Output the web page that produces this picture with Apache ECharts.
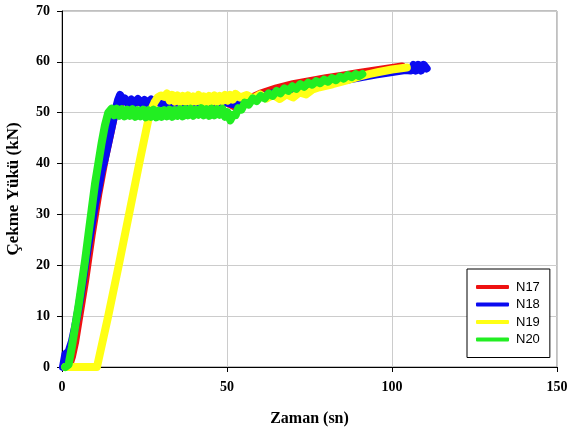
<!DOCTYPE html>
<html>
<head>
<meta charset="utf-8">
<script src="https://cdn.jsdelivr.net/npm/echarts@6/dist/echarts.min.js"></script>
<style>html,body{margin:0;padding:0;background:#fff;}#c{width:568px;height:434px;}</style>
</head>
<body>
<div id="c"></div>
<script>
var seriesNames = ['N17', 'N18', 'N19', 'N20'];
var xTicks = [0, 50, 100, 150];
var yTicks = [0, 10, 20, 30, 40, 50, 60, 70];

var n17 = [[2,0],[3,2],[4,5],[5,9],[6,13],[7,17],[8,21.5],[9,26],[10,30],[11,34],[12,37.5],[13,41],[14,44],[15,47],[16,50],[17,51.5],[18,52],[19,52.6],[20,52],[25,52.2],[30,52],[40,52],[50,52],[53,51],[55,52],[57,52.8],[60,53.7],[65,54.8],[70,55.6],[75,56.2],[80,56.8],[85,57.3],[90,57.8],[95,58.3],[100,58.8],[103,59.1]];

var n18 = [[0.3,0],[1,2.5],[2,3],[3,5],[4,8],[5,11.5],[6,15.5],[7,20],[8,24],[9,28],[10,32],[11,35],[12,38.5],[13,41],[14,44],[15,47],[16,50],[17,52.5],[17.6,53.5],[18.3,52.2],[19,52.8],[20,51.8],[21,52.6],[22,51.9],[23,52.7],[24,51.9],[25,52.5],[26,51.8],[27,52.6],[28,52],[29,52.2],[30,51.8],[35,52],[40,52],[45,52.2],[50,52],[53,51.5],[55,52],[60,53.1],[65,54],[70,54.7],[75,55.3],[80,55.8],[85,56.3],[90,56.9],[95,57.5],[100,58],[104,58.4],[105.8,58.3],[106.5,59.4],[107.2,58.3],[108,59.4],[108.8,58.3],[109.6,59.4],[110.5,58.7]];

var n19 = [[1,0],[10.6,0],[14,10],[17.2,20],[20.3,30],[23.4,40],[26.6,50],[28,52],[29,53],[30,53.4],[31,53.1],[31.8,53.8],[32.6,52.4],[33.4,53.5],[34.2,52.2],[35,53.4],[35.8,52.1],[36.6,53.3],[37.4,52.2],[38.2,53.4],[39,52],[39.8,53.2],[40.6,52.2],[41.4,53.5],[42.2,52.1],[43,53.2],[43.8,52],[44.6,53.3],[45.4,52.2],[46.2,53.4],[47,52.1],[47.8,53.3],[48.6,52.3],[49.4,53.5],[50.2,52.4],[51,53.5],[51.8,52.6],[52.6,53.7],[54,53],[56,53.5],[58,52.8],[60,53.6],[62,52.8],[64,53.5],[66,52.7],[68,53.6],[70,53],[72,54],[74,53.6],[76,54.6],[78,55],[82,55.6],[86,56.3],[90,57.1],[93,57.6],[96,58],[100,58.5],[104.5,58.9]];

var n20 = [[1,0],[2,0.5],[3,4],[4,8],[5,12],[6,16.5],[7,21],[8,26],[9,31],[10,36],[11,40],[12,44],[13,47.5],[14,50],[15,50.8],[15.8,49.5],[16.6,50.8],[17.4,49.4],[18.2,50.7],[19,49.3],[19.8,50.6],[20.6,49.4],[21.4,50.7],[22.2,49.2],[23,50.5],[23.8,49.3],[24.6,50.6],[25.4,49.1],[26.2,50.5],[27,49.2],[27.8,50.6],[28.6,49.1],[29.4,50.4],[30.2,49.2],[31,50.5],[31.8,49.3],[32.6,50.6],[33.4,49.2],[34.2,50.5],[35,49.4],[35.8,50.7],[36.6,49.3],[37.4,50.7],[38.2,49.5],[39,50.8],[39.8,49.4],[40.6,50.6],[41.4,49.6],[42.2,50.9],[43,49.5],[43.8,50.7],[44.6,49.4],[45.4,50.8],[46.2,49.5],[47,50.7],[47.8,49.6],[48.6,50.8],[49.4,49.2],[50.2,50.1],[51,48.5],[51.8,49.6],[52.6,49.5],[53.4,50.9],[54.4,50.6],[55.4,52],[56.6,51.6],[57.8,52.8],[59,52.3],[60.2,53.3],[61.4,52.8],[62.6,53.8],[63.8,53.3],[65,54.3],[66.2,53.8],[67.4,54.8],[68.6,54.3],[69.8,55.2],[71,54.7],[72.2,55.6],[73.4,55.1],[74.6,55.9],[75.8,55.5],[77,56.2],[78.2,55.8],[79.4,56.5],[80.6,56.1],[81.8,56.8],[83,56.4],[84.2,57.1],[85.4,56.7],[86.6,57.4],[87.8,57],[89,57.6],[90,57.2],[91,57.6]];

var colors = ['#ee1111', '#0a0af0', '#ffff14', '#22ee22'];
var datasets = [n17, n18, n19, n20];

var chart = echarts.init(document.getElementById('c'), null, {renderer: 'canvas'});
var serif = '"Liberation Serif", "Times New Roman", serif';
var sans = '"Liberation Sans", Arial, sans-serif';

chart.setOption({
  animation: false,
  backgroundColor: '#ffffff',
  grid: {left: 62, right: 11, top: 11, bottom: 67, containLabel: false, outerBoundsMode: 'none', show: true, borderColor: '#808080', borderWidth: 1, backgroundColor: 'transparent'},
  legend: {
    orient: 'vertical', left: 467, top: 269,
    backgroundColor: '#ffffff', borderColor: '#000', borderWidth: 1,
    padding: [11, 10, 11, 9],
    itemWidth: 33, itemHeight: 4, itemGap: 3.5,
    icon: 'roundRect',
    textStyle: {fontFamily: sans, fontSize: 13, color: '#000', lineHeight: 14, padding: [0,0,0,2]},
    data: seriesNames
  },
  xAxis: {
    type: 'value', min: xTicks[0], max: xTicks[xTicks.length-1], interval: 50,
    name: 'Zaman (sn)', nameLocation: 'middle', nameGap: 44,
    nameTextStyle: {fontFamily: serif, fontWeight: 'bold', fontSize: 16, color: '#000'},
    axisLine: {show: true, lineStyle: {color: '#000', width: 1}},
    axisTick: {show: true, length: 5, lineStyle: {color: '#000'}},
    axisLabel: {fontFamily: serif, fontWeight: 'bold', fontSize: 14, color: '#000', margin: 13},
    splitLine: {show: true, lineStyle: {color: '#cccccc', width: 1}}
  },
  yAxis: {
    type: 'value', min: yTicks[0], max: yTicks[yTicks.length-1], interval: 10,
    name: 'Çekme Yükü (kN)', nameLocation: 'middle', nameGap: 40,
    nameTextStyle: {fontFamily: serif, fontWeight: 'bold', fontSize: 17, color: '#000'},
    axisLine: {show: true, lineStyle: {color: '#000', width: 1}},
    axisTick: {show: true, length: 5, lineStyle: {color: '#000'}},
    axisLabel: {fontFamily: serif, fontWeight: 'bold', fontSize: 14, color: '#000', margin: 12},
    splitLine: {show: true, lineStyle: {color: '#cccccc', width: 1}}
  },
  series: seriesNames.map(function (n, i) {
    return {
      name: n, type: 'line', data: datasets[i], showSymbol: false, symbol: 'none',
      clip: false, smooth: false,
      lineStyle: {color: colors[i], width: 8, join: 'round', cap: 'round'},
      itemStyle: {color: colors[i]}
    };
  })
});
</script>
</body>
</html>
